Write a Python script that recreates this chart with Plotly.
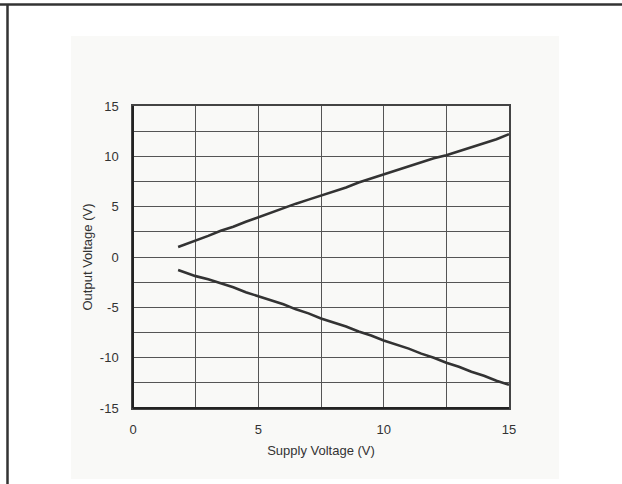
import plotly.graph_objects as go

supply_v = [1.8, 2.5, 3, 3.5, 4, 4.5, 5, 5.5, 6, 6.5, 7, 7.5, 8, 8.5, 9, 9.5,
            10, 10.5, 11, 11.5, 12, 12.5, 13, 13.5, 14, 14.5, 15]
out_high = [1.0, 1.6, 2.1, 2.6, 3.0, 3.5, 3.95, 4.4, 4.9, 5.3, 5.7, 6.1, 6.5, 6.9,
            7.4, 7.8, 8.2, 8.6, 9.0, 9.4, 9.8, 10.1, 10.5, 10.9, 11.3, 11.7, 12.2]
out_low = [-1.3, -1.9, -2.2, -2.6, -3.0, -3.5, -3.9, -4.3, -4.7, -5.2, -5.6, -6.1,
           -6.5, -6.9, -7.4, -7.8, -8.3, -8.7, -9.1, -9.6, -10.0, -10.5, -10.9,
           -11.4, -11.8, -12.3, -12.7]
x_grid = [0, 2.5, 5, 7.5, 10, 12.5, 15]
x_labels = ["0", "", "5", "", "10", "", "15"]
y_grid = [-15, -12.5, -10, -7.5, -5, -2.5, 0, 2.5, 5, 7.5, 10, 12.5, 15]
y_labels = ["-15", "", "-10", "", "-5", "", "0", "", "5", "", "10", "", "15"]

W, H = 622, 484
L, R, T, B = 133, 509, 106, 408


def px(x):
    return (x - L) / (R - L)


def py(y):
    return (B - y) / (B - T)


FONT = "Liberation Sans, Arial"
line_color = "#333333"
fig = go.Figure()
for ys in (out_high, out_low):
    fig.add_trace(go.Scatter(x=supply_v, y=ys, mode="lines",
                             line=dict(color=line_color, width=2.6),
                             showlegend=False, hoverinfo="skip"))

grid = dict(showgrid=True, gridcolor="#555555", gridwidth=1, zeroline=False,
            showline=True, mirror=True, linecolor="#444444", linewidth=1.5,
            ticks="", tickfont=dict(family=FONT, size=13, color="#333333"))

fig.update_xaxes(range=[0, 15], tickvals=x_grid, ticktext=x_labels, ticklabelstandoff=9,
                 title=dict(text="Supply Voltage (V)", standoff=10,
                            font=dict(family=FONT, size=13, color="#333333")),
                 **grid)
fig.update_yaxes(range=[-15, 15], tickvals=y_grid, ticktext=y_labels, ticklabelstandoff=10,
                 title=dict(text="Output Voltage (V)", standoff=4,
                            font=dict(family=FONT, size=13, color="#333333")),
                 **grid)

shapes = [
    dict(type="rect", xref="paper", yref="paper", x0=px(71), x1=px(559), y0=py(479), y1=py(36),
         fillcolor="#f9f9f7", line=dict(width=0), layer="below"),
    dict(type="line", xref="paper", yref="paper", x0=px(0), x1=px(622), y0=py(4.5), y1=py(4.5),
         line=dict(color="#333333", width=2.5)),
    dict(type="line", xref="paper", yref="paper", x0=px(7.5), x1=px(7.5), y0=py(4), y1=py(490),
         line=dict(color="#333333", width=2.5)),
    dict(type="line", xref="paper", yref="paper", x0=0, x1=0, y0=0, y1=1,
         line=dict(color="#222222", width=2)),
    dict(type="line", xref="paper", yref="paper", x0=0, x1=1, y0=0, y1=0,
         line=dict(color="#222222", width=2)),
]

fig.update_layout(width=W, height=H, margin=dict(l=L, r=W - R, t=T, b=H - B),
                  paper_bgcolor="white", plot_bgcolor="#f9f9f7", shapes=shapes,
                  font=dict(family=FONT, color="#333333"))
fig.write_html("out.html", config={"displayModeBar": False},
               post_script="document.body.style.margin='0';document.body.style.overflow='hidden';")
